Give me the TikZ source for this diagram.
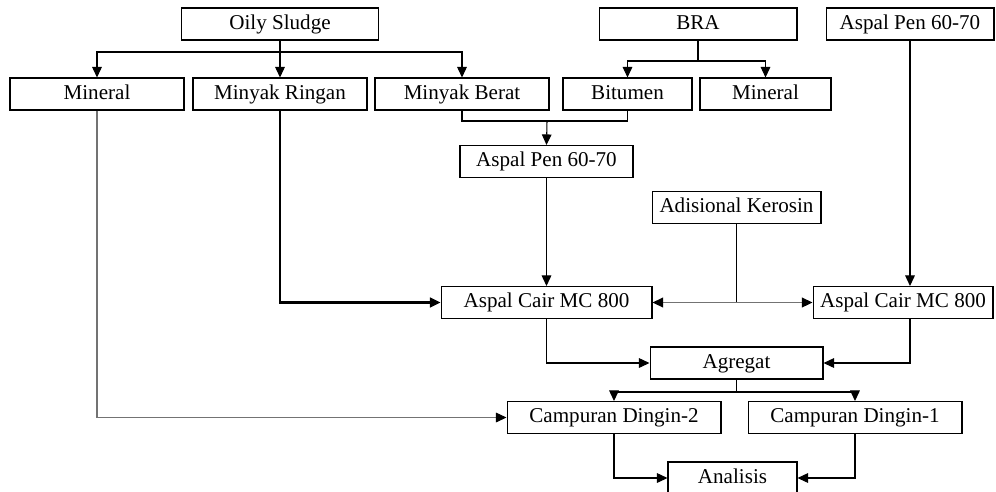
\documentclass[tikz,border=0pt,12pt]{standalone}
\usepackage{fontspec}
\setmainfont{Liberation Serif}
\usetikzlibrary{arrows.meta, positioning, calc}
\tikzstyle{box} = [rectangle, minimum height=0.64cm, inner sep=0pt, text height=8.6pt, text depth=2.8pt, text centered, draw=black, line width=0.6pt, fill=white]
\tikzstyle{line} = [line width=0.6pt]
\tikzstyle{arr} = [line width=0.6pt, -{Triangle[length=6pt,width=5.5pt]}]
\tikzstyle{arrgray} = [line width=1pt, draw=black!55, -{Triangle[length=6pt,width=5.5pt,color=black]}]

\begin{document}
\begin{tikzpicture}[x=0.02cm, y=-0.02cm]
			\useasboundingbox (0,0) rectangle (996,491);
			% top row
			\node (oily) [box, minimum width=3.94cm] at (280,24) {Oily Sludge};
			\node (bra) [box, minimum width=3.96cm] at (698,24) {BRA};
			\node (penR) [box, minimum width=3.36cm] at (910,24) {Aspal Pen 60-70};
			% second row
			\node (mineralA) [box, minimum width=3.48cm] at (97,94) {Mineral};
			\node (ringan) [box, minimum width=3.48cm] at (280,94) {Minyak Ringan};
			\node (berat) [box, minimum width=3.48cm] at (462,94) {Minyak Berat};
			\node (bitumen) [box, minimum width=2.58cm] at (627.5,94) {Bitumen};
			\node (mineralB) [box, minimum width=2.62cm] at (765.5,94) {Mineral};
			% middle
			\node (penM) [box, minimum width=3.46cm] at (546.5,161.5) {Aspal Pen 60-70};
			\node (kerosin) [box, minimum width=3.38cm] at (736.5,207.5) {Adisional Kerosin};
			\node (cairL) [box, minimum width=4.22cm] at (546.5,302.5) {Aspal Cair MC 800};
			\node (cairR) [box, minimum width=3.6cm] at (903,302.5) {Aspal Cair MC 800};
			% bottom
			\node (agregat) [box, minimum width=3.46cm] at (736.5,363) {Agregat};
			\node (dingin2) [box, minimum width=4.28cm] at (614,417.5) {Campuran Dingin-2};
			\node (dingin1) [box, minimum width=4.28cm] at (855,417.5) {Campuran Dingin-1};
			\node (analisis) [box, minimum width=2.58cm] at (732.5,478) {Analisis};

			\coordinate (fork1) at (280,52);
			\coordinate (fork2) at (698,61);
			\coordinate (join1) at (547,121);
			\coordinate (fork3) at (736.5,392);
			\coordinate (kj) at (kerosin.south |- cairL.east);

			\draw[line] (oily.south) -- (fork1);
			\draw[arr] (fork1) -| (mineralA.north);
			\draw[arr] (fork1) -- (ringan.north);
			\draw[arr] (fork1) -| (berat.north);
			\draw[line] (bra.south) -- (fork2);
			\draw[arr] (fork2) -| (bitumen.north);
			\draw[arr] (fork2) -| (mineralB.north);
			\draw[line] (berat.south) |- (join1);
			\draw[line] (bitumen.south) |- (join1);
			\draw[arr] (join1) -- (penM.north);
			\draw[arr] (penM.south) -- (cairL.north);
			\draw[arr] (penR.south) -- (penR.south |- cairR.north);
			\draw[line] (kerosin.south) -- (kj);
			\draw[arrgray] (kj) -- (cairL.east);
			\draw[arrgray] (kj) -- (cairR.west);
			\draw[arr, line width=1.3pt] (ringan.south) |- (cairL.west);
			\draw[arrgray, line width=0.6pt] (mineralA.south) |- (dingin2.west);
			\draw[arr] (cairL.south) |- (agregat.west);
			\draw[arr] (penR.south |- cairR.south) |- (agregat.east);
			\draw[line] (agregat.south) -- (fork3);
			\draw[arr] (fork3) -| (dingin2.north);
			\draw[arr] (fork3) -| (dingin1.north);
			\draw[arr] (dingin2.south) |- (analisis.west);
			\draw[arr] (dingin1.south) |- (analisis.east);
\end{tikzpicture}
\end{document}
